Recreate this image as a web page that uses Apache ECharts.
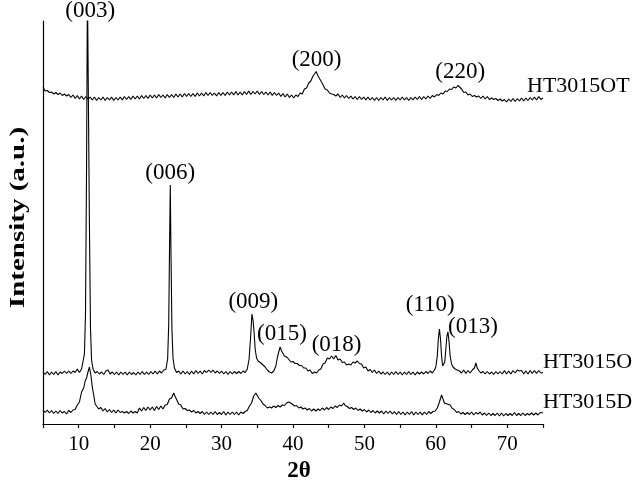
<!DOCTYPE html>
<html>
<head>
<meta charset="utf-8">
<script src="https://cdn.jsdelivr.net/npm/echarts@6/dist/echarts.min.js"></script>
<style>
  html, body { margin: 0; padding: 0; background: #fff; }
  #main { width: 640px; height: 485px; }
</style>
</head>
<body>
<div id="main"></div>
<script>
// XRD patterns, intensity in arbitrary units (curves already offset vertically)
var seriesNames = ['HT3015D', 'HT3015O', 'HT3015OT'];

var ht3015D = [
  [5.0,14],[5.3,11.5],[5.6,14],[5.9,11],[6.2,13.5],[6.5,10.5],[6.8,13],[7.1,10.5],[7.4,13.5],[7.7,11],
  [8.0,12.5],[8.3,10],[8.6,13.5],[8.9,11.5],[9.2,14],[9.5,14.5],[9.8,19],[10.1,22],[10.4,32],[10.7,36],
  [10.9,43],[11.1,46],[11.3,52],[11.5,57],[11.7,49],[11.9,37],[12.1,29],[12.3,20],[12.5,19],[12.8,15],
  [13.1,16.5],[13.4,13],[13.7,15.5],[14.0,12],[14.3,14.5],[14.6,11.5],[14.9,14],[15.2,11],[15.5,14],[15.8,11.5],
  [16.1,12.5],[16.4,11],[16.7,12.5],[17.0,10.5],[17.3,13],[17.6,11],[17.9,12.5],[18.2,11],[18.5,16],[18.8,13],
  [19.1,16.5],[19.4,13.5],[19.7,17],[20.0,14],[20.3,17],[20.6,13.5],[20.9,17.5],[21.2,14.5],[21.5,18],[21.8,15],
  [22.1,19],[22.4,19.5],[22.7,25],[23.0,26],[23.3,31],[23.5,27.5],[23.7,26.5],[24.0,20],[24.3,19],[24.6,15],
  [24.9,15.5],[25.2,13.5],[25.5,14],[25.8,12],[26.1,13.5],[26.4,11],[26.7,12.5],[27.0,10.5],[27.3,12.5],[27.6,9.5],
  [27.9,12],[28.2,9.5],[28.5,12],[28.8,9.5],[29.1,12.5],[29.4,9.5],[29.7,11.5],[30.0,9.5],[30.3,12.5],[30.6,9],
  [30.9,12],[31.2,9.5],[31.5,12],[31.8,9.5],[32.1,12],[32.4,9],[32.7,12],[33.0,10.5],[33.3,12.5],[33.6,13.5],
  [33.9,18],[34.2,21],[34.5,28],[34.8,31],[35.0,29.5],[35.2,26],[35.5,23.5],[35.8,20],[36.1,18.5],[36.4,16],
  [36.7,17],[37.0,16],[37.3,18],[37.6,16.5],[37.9,18.5],[38.2,17],[38.5,19],[38.8,18.5],[39.1,21],[39.4,22],
  [39.6,20],[39.9,20],[40.2,18],[40.5,18.5],[40.8,16],[41.1,17],[41.4,15],[41.7,16],[42.0,14],[42.3,15.5],
  [42.6,13],[42.9,15],[43.2,13],[43.5,15],[43.8,13.5],[44.1,16],[44.4,14],[44.7,16.5],[45.0,14.5],[45.3,17],
  [45.6,15.5],[45.9,18],[46.2,16.5],[46.5,19],[46.8,18],[47.1,21],[47.3,18.5],[47.6,17.5],[47.9,15.5],[48.2,16.5],
  [48.5,14.5],[48.8,16],[49.1,13.5],[49.4,15],[49.7,13],[50.0,14.5],[50.3,12],[50.6,14],[50.9,11.5],[51.2,13.5],
  [51.5,11],[51.8,13],[52.1,11],[52.4,13],[52.7,10],[53.0,13],[53.3,10.5],[53.6,13],[53.9,10],[54.2,12.5],
  [54.5,9.5],[54.8,12.5],[55.1,9.5],[55.4,12],[55.7,9],[56.0,12],[56.3,9.5],[56.6,12.5],[56.9,9],[57.2,12],
  [57.5,9.5],[57.8,12],[58.1,9],[58.4,12],[58.7,9.5],[59.0,12.5],[59.3,10.5],[59.6,12.5],[59.9,13],[60.2,16],
  [60.5,22],[60.8,29],[61.0,27],[61.2,21],[61.4,19],[61.6,20],[61.8,18.5],[62.0,19],[62.3,15.5],[62.6,14.5],
  [62.9,11.5],[63.2,12.5],[63.5,10],[63.8,11.5],[64.1,9.5],[64.4,11.5],[64.7,9.5],[65.0,12],[65.3,9],[65.6,11.5],
  [65.9,10],[66.2,12],[66.5,9],[66.8,11],[67.1,8.5],[67.4,11],[67.7,8.5],[68.0,10.5],[68.3,8.5],[68.6,11],
  [68.9,8],[69.2,11],[69.5,8],[69.8,10.5],[70.1,8.5],[70.4,10.5],[70.7,8.5],[71.0,11.5],[71.3,8.5],[71.6,10.5],
  [71.9,8.5],[72.2,11],[72.5,8.5],[72.8,10.5],[73.1,9],[73.4,11],[73.7,9],[74.0,11],[74.3,9],[74.6,11.5],
  [75.0,11]
];

var ht3015O = [
  [5.0,52],[5.3,49.5],[5.6,52.5],[5.9,49],[6.2,52],[6.5,49.5],[6.8,52.5],[7.1,49],[7.4,52],[7.7,50.5],
  [8.0,53],[8.3,50.5],[8.6,53],[8.9,50.5],[9.2,53],[9.5,51.5],[9.8,55],[10.1,51.5],[10.4,55],[10.6,57],
  [10.8,70],[10.95,110],[11.1,260],[11.22,440],[11.38,440],[11.5,200],[11.65,95],[11.8,64],[12.0,55],[12.3,51],
  [12.6,52.5],[12.9,50],[13.2,52],[13.5,49.5],[13.8,53],[14.1,54],[14.4,50],[14.7,52],[15.0,49.5],[15.3,52],
  [15.6,49],[15.9,52],[16.2,49.5],[16.5,52],[16.8,49],[17.1,52],[17.4,49.5],[17.7,51.5],[18.0,49],[18.3,52],
  [18.6,49.5],[18.9,52.5],[19.2,49.5],[19.5,52],[19.8,49.5],[20.1,52.5],[20.4,50],[20.7,53],[21.0,50],[21.3,53],
  [21.6,51],[21.9,54],[22.2,54.5],[22.45,65],[22.6,100],[22.72,180],[22.82,239],[22.92,170],[23.05,95],[23.2,66],
  [23.4,56],[23.7,51.5],[24.0,53],[24.3,50],[24.6,53],[24.9,50],[25.2,52.5],[25.5,49.5],[25.8,53],[26.1,50],
  [26.4,53.5],[26.7,50.5],[27.0,53],[27.3,50],[27.6,53.5],[27.9,51.5],[28.2,54],[28.5,51.5],[28.8,54],[29.1,51],
  [29.4,53],[29.7,50.5],[30.0,53],[30.3,50],[30.6,52.5],[30.9,49.5],[31.2,52.5],[31.5,50],[31.8,52.5],[32.1,50.5],
  [32.4,52.5],[32.7,50.5],[33.0,53],[33.3,51.5],[33.6,55],[33.85,65],[34.05,85],[34.25,110],[34.4,104],[34.55,92],
  [34.7,75],[34.9,66],[35.1,63],[35.3,65],[35.5,61],[35.8,59],[36.1,57],[36.4,54],[36.7,52],[37.0,51],
  [37.3,53],[37.6,58],[37.8,66],[38.0,72],[38.2,77],[38.4,73],[38.6,73],[38.8,68],[39.0,68],[39.2,66.5],
  [39.4,65],[39.7,62],[40.0,62.5],[40.3,60.5],[40.6,60.5],[40.9,58.5],[41.2,58.5],[41.5,56],[41.8,56],[42.1,53],
  [42.4,54],[42.7,50.5],[43.0,52],[43.3,51],[43.6,54],[43.9,55],[44.2,60],[44.5,61],[44.8,66],[45.1,65],
  [45.4,68],[45.7,65],[46.0,68.5],[46.3,64],[46.6,65],[46.9,61.5],[47.2,62],[47.5,59],[47.8,60],[48.1,59],
  [48.4,62],[48.7,61],[49.0,63],[49.3,60.5],[49.6,60],[49.9,56],[50.2,57],[50.5,53],[50.8,54.5],[51.1,51.5],
  [51.4,54],[51.7,50.5],[52.0,53],[52.3,50],[52.6,52],[52.9,49.5],[53.2,52],[53.5,49],[53.8,52],[54.1,49.5],
  [54.4,52.5],[54.7,49.5],[55.0,52],[55.3,49],[55.6,52],[55.9,49.5],[56.2,52.5],[56.5,49.5],[56.8,52],[57.1,49],
  [57.4,52],[57.7,50],[58.0,52],[58.3,50],[58.6,52.5],[58.9,50.5],[59.2,53],[59.5,51],[59.8,54],[60.0,57],
  [60.2,68],[60.35,85],[60.5,95],[60.65,85],[60.8,68],[60.95,58],[61.1,56],[61.25,62],[61.4,75],[61.55,88],
  [61.7,92],[61.85,82],[62.0,68],[62.2,60],[62.4,57],[62.7,55],[63.0,54],[63.3,53],[63.6,51],[63.9,54],
  [64.2,50.5],[64.5,53.5],[64.8,51],[65.1,54],[65.4,56],[65.6,61],[65.8,56],[66.0,53.5],[66.3,51],[66.6,52.5],
  [66.9,50],[67.2,52.5],[67.5,50],[67.8,52],[68.1,49.5],[68.4,52.5],[68.7,50],[69.0,52.5],[69.3,50],[69.6,53.5],
  [69.9,50],[70.2,53],[70.5,50],[70.8,53.5],[71.1,51],[71.4,54],[71.7,53],[72.0,53.5],[72.3,50],[72.6,53],
  [72.9,50],[73.2,53.5],[73.5,50.5],[73.8,53.5],[74.1,50.5],[74.4,53.5],[74.7,51],[75.0,51.5]
];

var ht3015OT = [
  [5.0,337],[5.3,333],[5.6,333.5],[5.9,331.5],[6.2,332],[6.5,330],[6.8,331.5],[7.1,329.5],[7.4,331],[7.7,328.5],
  [8.0,330],[8.3,328],[8.6,329.5],[8.9,326.5],[9.2,329],[9.5,325.5],[9.8,328.5],[10.1,325],[10.4,328],[10.7,324.5],
  [11.0,327.5],[11.3,324.5],[11.6,327],[11.9,324],[12.2,327],[12.5,323.5],[12.8,326.5],[13.1,324],[13.4,327],[13.7,323.5],
  [14.0,326.5],[14.3,324],[14.6,327],[14.9,323.5],[15.2,326.5],[15.5,324],[15.8,327],[16.1,324],[16.4,327.5],[16.7,324.5],
  [17.0,327.5],[17.3,324.5],[17.6,328],[17.9,325],[18.2,328],[18.5,325],[18.8,328.5],[19.1,325.5],[19.4,328.5],[19.7,325.5],
  [20.0,329],[20.3,326],[20.6,329],[20.9,326],[21.2,329.5],[21.5,326.5],[21.8,329],[22.1,326],[22.4,329.5],[22.7,326.5],
  [23.0,329.5],[23.3,326.5],[23.6,330],[23.9,327],[24.2,330],[24.5,327],[24.8,330.5],[25.1,327.5],[25.4,330.5],[25.7,327.5],
  [26.0,330.5],[26.3,327.5],[26.6,331],[26.9,328],[27.2,331],[27.5,328],[27.8,331.5],[28.1,328.5],[28.4,331.5],[28.7,328.5],
  [29.0,331],[29.3,328],[29.6,331.5],[29.9,328.5],[30.2,331.5],[30.5,328.5],[30.8,332],[31.1,329],[31.4,332],[31.7,329],
  [32.0,332.5],[32.3,329],[32.6,332],[32.9,329],[33.2,332.5],[33.5,329.5],[33.8,333],[34.1,329.5],[34.4,332.5],[34.7,330],
  [35.0,333],[35.3,329.5],[35.6,332.5],[35.9,329.5],[36.2,332],[36.5,329],[36.8,332],[37.1,328.5],[37.4,331.5],[37.7,328.5],
  [38.0,331],[38.3,327.5],[38.6,330.5],[38.9,327],[39.2,330],[39.5,326.5],[39.8,329],[40.1,326],[40.4,329],[40.7,327.5],
  [41.0,331],[41.3,330],[41.6,335],[41.9,336],[42.2,341],[42.5,343],[42.8,348],[43.0,349],[43.25,352.5],[43.5,348],
  [43.75,347.5],[44.0,342],[44.2,340],[44.5,335],[44.8,334],[45.1,331],[45.4,330],[45.7,329.5],[46.0,328],[46.3,330],
  [46.6,326.5],[46.9,329],[47.2,326],[47.5,328.5],[47.8,325.5],[48.1,328],[48.4,325],[48.7,327.5],[49.0,324.5],[49.3,327.5],
  [49.6,324.5],[49.9,327],[50.2,324],[50.5,327],[50.8,324],[51.1,326.5],[51.4,323.5],[51.7,326.5],[52.0,323.5],[52.3,326.5],
  [52.6,324],[52.9,327],[53.2,323.5],[53.5,326.5],[53.8,324],[54.1,326.5],[54.4,323.5],[54.7,326.5],[55.0,324],[55.3,327],
  [55.6,324],[55.9,326.5],[56.2,323.5],[56.5,326.5],[56.8,324],[57.1,327],[57.4,324.5],[57.7,327.5],[58.0,324.5],[58.3,327.5],
  [58.6,325],[58.9,328],[59.2,325.5],[59.5,328.5],[59.8,327],[60.1,329.5],[60.4,328.5],[60.7,331],[61.0,330],[61.3,333],
  [61.6,332.5],[61.9,335],[62.2,334.5],[62.5,337],[62.8,336],[63.1,338.5],[63.3,336.5],[63.6,335],[63.9,331.5],[64.2,332],
  [64.5,329],[64.8,330],[65.1,327.5],[65.4,328.5],[65.7,327],[66.0,328],[66.3,325.5],[66.6,328],[66.9,325],[67.2,327.5],
  [67.5,324.5],[67.8,326],[68.1,324.5],[68.4,325.5],[68.7,323.5],[69.0,325],[69.3,323],[69.6,324.5],[69.9,322],[70.2,325],
  [70.5,322.5],[70.8,325.5],[71.1,322.5],[71.4,325.5],[71.7,323],[72.0,326],[72.3,323],[72.6,326],[72.9,323.5],[73.2,326.5],
  [73.5,324],[73.8,327],[74.1,324],[74.4,327.5],[74.7,324.5],[75.0,326]
];

// peak (hkl) annotations: label, 2theta, height of label
var peakNames = ['(003)', '(006)', '(009)', '(015)', '(018)', '(110)', '(013)', '(200)', '(220)'];
var peakX = [11.6, 22.8, 34.45, 38.45, 46.1, 59.2, 65.2, 43.3, 63.4];
var peakY = [413, 251, 122, 90.5, 79, 119, 97.5, 364, 352];

var xTicks = [10, 20, 30, 40, 50, 60, 70];

var serifFont = '"Liberation Serif", "Times New Roman", serif';

var peakData = [];
for (var i = 0; i < peakNames.length; i++) {
  peakData.push({ name: peakNames[i], value: [peakX[i], peakY[i]] });
}

function curve(name, data, labelOffset) {
  return {
    name: name,
    type: 'line',
    data: data,
    symbol: 'none',
    silent: true,
    lineStyle: { color: '#000', width: 1.1 },
    endLabel: {
      show: true,
      formatter: '{a}',
      distance: 0,
      offset: labelOffset,
      color: '#000',
      fontFamily: serifFont,
      fontSize: 22
    }
  };
}

var option = {
  backgroundColor: '#fff',
  animation: false,
  grid: { left: 43, right: 97, top: 21, bottom: 61 },
  xAxis: {
    type: 'value',
    min: 5,
    max: 75,
    interval: 5,
    splitLine: { show: false },
    axisLine: { lineStyle: { color: '#000', width: 1.2 } },
    axisTick: { length: 4, lineStyle: { color: '#000', width: 1.2 } },
    axisLabel: {
      margin: 10,
      color: '#000',
      fontFamily: serifFont,
      fontSize: 21,
      formatter: function (v) { return xTicks.indexOf(v) >= 0 ? String(v) : ''; }
    }
  },
  yAxis: {
    type: 'value',
    min: 0,
    max: 403,
    splitLine: { show: false },
    axisLine: { show: true, lineStyle: { color: '#000', width: 1.2 } },
    axisTick: { show: false },
    axisLabel: { show: false }
  },
  graphic: [
    {
      type: 'text',
      x: 18.5,
      y: 217.5,
      rotation: Math.PI / 2,
      scaleX: 1.45,
      style: {
        text: 'Intensity (a.u.)',
        fill: '#000',
        font: 'bold 20px ' + serifFont,
        textAlign: 'center',
        textVerticalAlign: 'middle'
      }
    },
    {
      type: 'text',
      x: 299,
      y: 471,
      style: {
        text: '2θ',
        fill: '#000',
        font: 'bold 23px ' + serifFont,
        textAlign: 'center',
        textVerticalAlign: 'middle'
      }
    }
  ],
  series: [
    curve(seriesNames[0], ht3015D, [0, -10.5]),
    curve(seriesNames[1], ht3015O, [0, -10.5]),
    curve(seriesNames[2], ht3015OT, [-16, -12]),
    {
      type: 'scatter',
      data: peakData,
      symbolSize: 0,
      silent: true,
      clip: false,
      itemStyle: { color: '#000', opacity: 1 },
      label: {
        show: true,
        position: 'inside',
        formatter: '{b}',
        color: '#000',
        textBorderWidth: 0,
        fontFamily: serifFont,
        fontSize: 23
      }
    }
  ]
};

var chart = echarts.init(document.getElementById('main'));
chart.setOption(option);
</script>
</body>
</html>
